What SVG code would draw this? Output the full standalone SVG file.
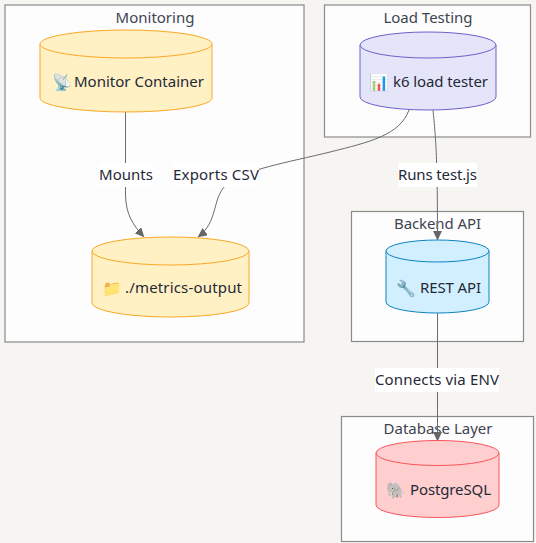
<svg xmlns="http://www.w3.org/2000/svg" width="536" height="543" viewBox="0 0 536 543">
<style>
text{font-family:"Noto Sans","Open Sans",sans-serif;font-size:15px;fill:#1f2937;lengthAdjust:spacing}
.emoji{font-family:"Noto Color Emoji","Noto Sans",sans-serif;font-size:16px;opacity:.9}
.cluster{fill:#fdfdfd;stroke:#8a8a8a;stroke-width:1.2}
.title{text-anchor:middle;fill:#3d4452}
.edge{fill:none;stroke:#6b6b6b;stroke-width:1}
.lab{fill:#fff}
.y path{fill:#fff1c4;stroke:#f9a825;stroke-width:1}
.b path{fill:#e5e5fa;stroke:#6f60cc;stroke-width:1}
.c path{fill:#d2efff;stroke:#0d84c0;stroke-width:1}
.r path{fill:#ffcfcf;stroke:#f9545c;stroke-width:1}
</style>
<defs>
<marker id="arrow" markerWidth="10" markerHeight="9" refX="9" refY="4.500" orient="auto" markerUnits="userSpaceOnUse"><path d="M0 0L9.500 4.500L0 9z" fill="#666"/></marker>
</defs>
<rect width="536" height="543" fill="#f6f5f2"/>
<g id="cluster-monitoring"><rect class="cluster" x="5" y="5" width="299" height="337"/><text class="title" x="155" y="23">Monitoring</text></g>
<g id="cluster-load"><rect class="cluster" x="324.500" y="5" width="206" height="132"/><text class="title" x="428" y="23">Load Testing</text></g>
<g id="cluster-backend"><rect class="cluster" x="351.500" y="211.500" width="172" height="130"/><text class="title" x="437.500" y="229" textLength="87">Backend API</text></g>
<g id="cluster-database"><rect class="cluster" x="341.500" y="416.500" width="192" height="125"/><text class="title" x="438" y="434">Database Layer</text></g>
<g id="connectors">
<path class="edge" d="M125.500 112V195C126 215 133 225 144 237" marker-end="url(#arrow)"/>
<path class="edge" d="M409 110C400 135 370 142 330 152C290 162 240 170 225 186C212 200 218 222 198 237" marker-end="url(#arrow)"/>
<path class="edge" d="M433 110C436 140 437.500 160 437.500 240" marker-end="url(#arrow)"/>
<path class="edge" d="M437.500 313V441" marker-end="url(#arrow)"/>
<rect class="lab" x="99" y="163" width="54" height="24"/><text x="99" y="180" textLength="54">Mounts</text>
<rect class="lab" x="173" y="163" width="86" height="24"/><text x="173" y="180" textLength="86">Exports CSV</text>
<rect class="lab" x="398" y="163" width="79" height="24"/><text x="398" y="180" textLength="79">Runs test.js</text>
<rect class="lab" x="375" y="368" width="124" height="24"/><text x="375" y="385" textLength="124">Connects via ENV</text>
</g>
<g id="node-monitor" class="y"><path d="M40 44A86 14 0 0 1 212 44V98A86 14 0 0 1 40 98Z"/><path d="M40 44A86 14 0 0 0 212 44"/><text class="emoji" x="52" y="88">📡</text><text x="74" y="87" textLength="130">Monitor Container</text></g>
<g id="node-metrics" class="y"><path d="M92 251A78.500 14 0 0 1 249 251V303A78.500 14 0 0 1 92 303Z"/><path d="M92 251A78.500 14 0 0 0 249 251"/><text class="emoji" x="102" y="294">📁</text><text x="125" y="293" textLength="117">./metrics-output</text></g>
<g id="node-k6" class="b"><path d="M360 45A68 13 0 0 1 496 45V97A68 13 0 0 1 360 97Z"/><path d="M360 45A68 13 0 0 0 496 45"/><text class="emoji" x="369" y="88">📊</text><text x="393" y="87" textLength="95">k6 load tester</text></g>
<g id="node-rest" class="c"><path d="M386 251A51.500 11 0 0 1 489 251V302A51.500 11 0 0 1 386 302Z"/><path d="M386 251A51.500 11 0 0 0 489 251"/><text class="emoji" x="396" y="294">🔧</text><text x="420" y="293" textLength="61">REST API</text></g>
<g id="node-postgres" class="r"><path d="M376 453A61.500 12.500 0 0 1 499 453V505A61.500 12.500 0 0 1 376 505Z"/><path d="M376 453A61.500 12.500 0 0 0 499 453"/><text class="emoji" x="386" y="496">🐘</text><text x="410" y="495" textLength="81">PostgreSQL</text></g>
</svg>
